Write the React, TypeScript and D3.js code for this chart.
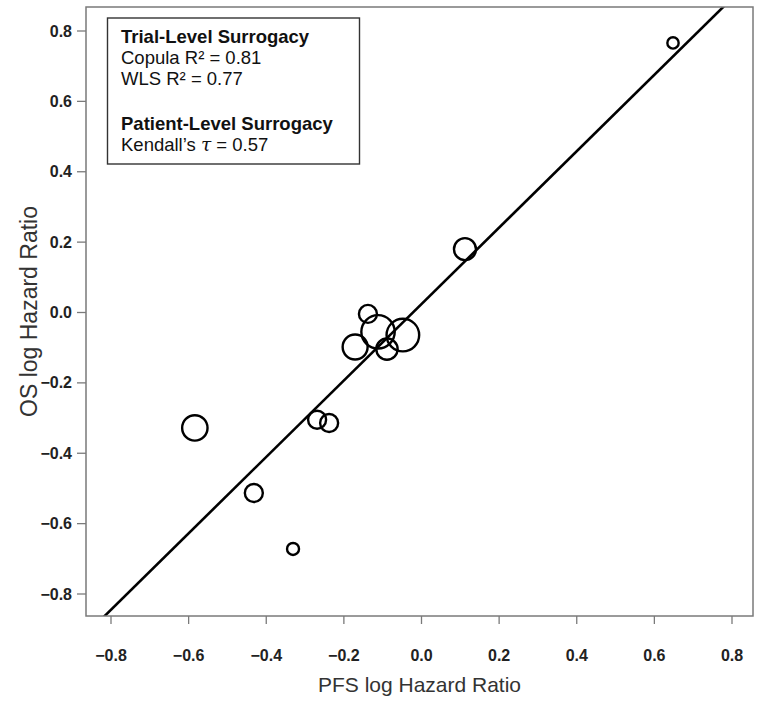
import React from "react";
import * as d3 from "d3";

// ---- data ----
const pfsLogHR = [0.648, 0.112, -0.138, -0.112, -0.048, -0.171, -0.089, -0.269, -0.238, -0.584, -0.432, -0.331];
const osLogHR = [0.766, 0.18, -0.004, -0.055, -0.064, -0.098, -0.104, -0.305, -0.314, -0.328, -0.513, -0.672];
const trialWeight = [32, 121, 81, 279, 266, 156, 114, 81, 81, 161, 81, 36];
const tickValues = [-0.8, -0.6, -0.4, -0.2, 0.0, 0.2, 0.4, 0.6, 0.8];
const regSlope = 1.086;
const regIntercept = 0.024;
const legendTitles = ["Trial-Level Surrogacy", "Patient-Level Surrogacy"];
const trialLines = ["Copula R² = 0.81", "WLS R² = 0.77"];
const patientLine = ["Kendall’s ", "τ", " = 0.57"];
const xTitle = "PFS log Hazard Ratio";
const yTitle = "OS log Hazard Ratio";

const W = 762;
const H = 704;
const frame = { left: 86, right: 753, top: 7, bottom: 616 };
const FONT = "'Liberation Sans', Arial, Helvetica, sans-serif";

export default function App() {
  const x = d3.scaleLinear().domain([-0.8, 0.8]).range([111, 732]);
  const y = d3.scaleLinear().domain([-0.8, 0.8]).range([594, 31]);
  const r = d3.scaleSqrt().domain([0, d3.max(trialWeight) as number]).range([0, 16.7]);

  const xMin = x.invert(frame.left);
  const xMax = x.invert(frame.right);
  const lineGen = d3
    .line<number>()
    .x((d) => x(d))
    .y((d) => y(regSlope * d + regIntercept));
  const linePath = lineGen([xMin, xMax]) || "";

  const fmt = (v: number) => (v < 0 ? "\u2212" : "") + Math.abs(v).toFixed(1);
  const axisColor = "#7a7a7a";

  return (
    <svg
      width={W}
      height={H}
      style={{ position: "absolute", left: 0, top: 0, background: "#fff" }}
      fontFamily={FONT}
    >
      <defs>
        <clipPath id="plotClip">
          <rect
            x={frame.left}
            y={frame.top}
            width={frame.right - frame.left}
            height={frame.bottom - frame.top}
          />
        </clipPath>
      </defs>
      <rect x={0} y={0} width={W} height={H} fill="#fff" />

      {/* regression line */}
      <path d={linePath} stroke="#000" strokeWidth={2.6} fill="none" clipPath="url(#plotClip)" />

      {/* bubbles */}
      <g clipPath="url(#plotClip)">
        {pfsLogHR.map((v, i) => (
          <circle
            key={i}
            cx={x(v)}
            cy={y(osLogHR[i])}
            r={r(trialWeight[i])}
            fill="none"
            stroke="#000"
            strokeWidth={2.4}
          />
        ))}
      </g>

      {/* frame */}
      <rect
        x={frame.left}
        y={frame.top}
        width={frame.right - frame.left}
        height={frame.bottom - frame.top}
        fill="none"
        stroke={axisColor}
        strokeWidth={1.5}
      />

      {/* x axis */}
      <g>
        {tickValues.map((t) => (
          <g key={"x" + t}>
            <line x1={x(t)} x2={x(t)} y1={frame.bottom} y2={frame.bottom + 8} stroke={axisColor} strokeWidth={1.3} />
            <text
              x={x(t)}
              y={frame.bottom + 45}
              textAnchor="middle"
              fontSize={16}
              fontWeight="bold"
              fill="#222"
            >
              {fmt(t)}
            </text>
          </g>
        ))}
      </g>

      {/* y axis */}
      <g>
        {tickValues.map((t) => (
          <g key={"y" + t}>
            <line x1={frame.left - 9} x2={frame.left} y1={y(t)} y2={y(t)} stroke={axisColor} strokeWidth={1.3} />
            <text
              x={frame.left - 14}
              y={y(t) + 5.5}
              textAnchor="end"
              fontSize={16}
              fontWeight="bold"
              fill="#222"
            >
              {fmt(t)}
            </text>
          </g>
        ))}
      </g>

      {/* axis titles */}
      <text
        x={(frame.left + frame.right) / 2}
        y={692}
        textAnchor="middle"
        fontSize={21}
        fill="#333"
      >
        {xTitle}
      </text>
      <text
        transform={`translate(37, ${(frame.top + frame.bottom) / 2}) rotate(-90)`}
        textAnchor="middle"
        fontSize={23}
        fill="#333"
      >
        {yTitle}
      </text>

      {/* legend */}
      <rect x={107.5} y={18} width={252} height={146} fill="#fff" stroke="#333" strokeWidth={1.4} />
      <g fontSize={18.5} fill="#111">
        <text x={121} y={43} fontWeight="bold">{legendTitles[0]}</text>
        <text x={121} y={64}>{trialLines[0]}</text>
        <text x={121} y={85}>{trialLines[1]}</text>
        <text x={121} y={130} fontWeight="bold">{legendTitles[1]}</text>
        <text x={121} y={151}>
          {patientLine[0]}
          <tspan fontStyle="italic" fontFamily="'DejaVu Serif', 'Liberation Serif', serif">{patientLine[1]}</tspan>
          {patientLine[2]}
        </text>
      </g>
    </svg>
  );
}
